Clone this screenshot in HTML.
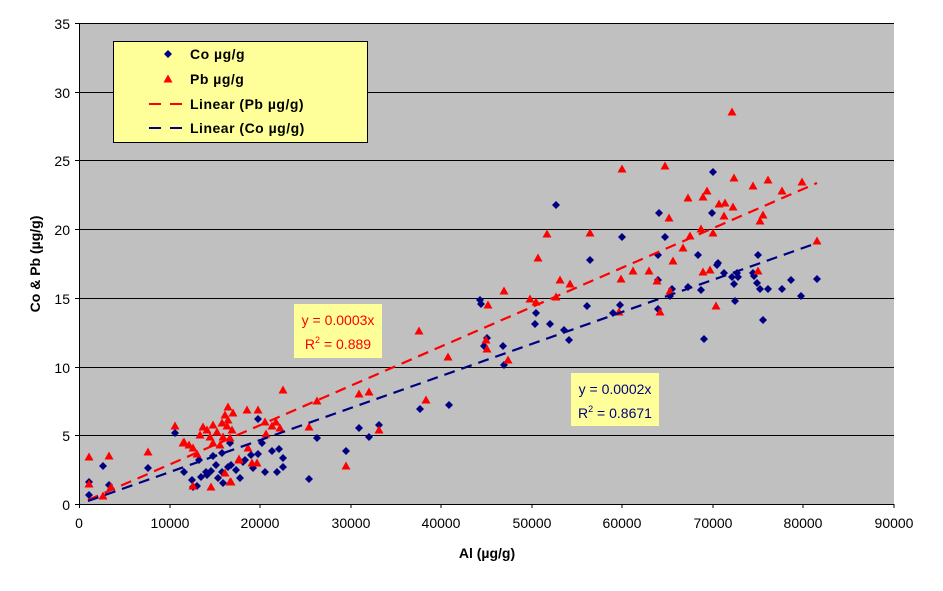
<!DOCTYPE html>
<html><head><meta charset="utf-8"><style>
body{margin:0;background:#fff;}
svg text{font-family:"Liberation Sans",Arial,sans-serif;}
</style></head><body>
<svg width="943" height="586" viewBox="0 0 943 586" xmlns="http://www.w3.org/2000/svg">
<defs>
<path id="d" d="M0,-4 L4,0 L0,4 L-4,0Z" fill="#000080"/>
<path id="t" d="M0,-4.5 L4.5,3.5 L-4.5,3.5Z" fill="#ff0000"/>
</defs>
<rect x="79" y="23" width="815" height="481" fill="#c0c0c0"/>
<g stroke="#000" stroke-width="1">
<line x1="79" y1="23.5" x2="894" y2="23.5"/>
<line x1="79" y1="92.5" x2="894" y2="92.5"/>
<line x1="79" y1="160.5" x2="894" y2="160.5"/>
<line x1="79" y1="229.5" x2="894" y2="229.5"/>
<line x1="79" y1="298.5" x2="894" y2="298.5"/>
<line x1="79" y1="367.5" x2="894" y2="367.5"/>
<line x1="79" y1="435.5" x2="894" y2="435.5"/>
<line x1="79" y1="504.5" x2="894" y2="504.5"/>
<line x1="79.5" y1="23" x2="79.5" y2="508"/>
<line x1="75" y1="23.5" x2="79" y2="23.5"/><line x1="75" y1="92.5" x2="79" y2="92.5"/><line x1="75" y1="160.5" x2="79" y2="160.5"/><line x1="75" y1="229.5" x2="79" y2="229.5"/><line x1="75" y1="298.5" x2="79" y2="298.5"/><line x1="75" y1="367.5" x2="79" y2="367.5"/><line x1="75" y1="435.5" x2="79" y2="435.5"/><line x1="75" y1="504.5" x2="79" y2="504.5"/>
<line x1="170" y1="504" x2="170" y2="508"/><line x1="260" y1="504" x2="260" y2="508"/><line x1="351" y1="504" x2="351" y2="508"/><line x1="441" y1="504" x2="441" y2="508"/><line x1="532" y1="504" x2="532" y2="508"/><line x1="622" y1="504" x2="622" y2="508"/><line x1="713" y1="504" x2="713" y2="508"/><line x1="803" y1="504" x2="803" y2="508"/><line x1="894" y1="504" x2="894" y2="508"/>
</g>
<g font-size="14" fill="#000" text-anchor="end">
<text x="70" y="29">35</text><text x="70" y="98">30</text><text x="70" y="166">25</text><text x="70" y="235">20</text><text x="70" y="304">15</text><text x="70" y="373">10</text><text x="70" y="441">5</text><text x="70" y="510">0</text>
</g>
<g font-size="14" fill="#000" text-anchor="middle">
<text x="79" y="528">0</text><text x="170" y="528">10000</text><text x="260" y="528">20000</text><text x="351" y="528">30000</text><text x="441" y="528">40000</text><text x="532" y="528">50000</text><text x="622" y="528">60000</text><text x="713" y="528">70000</text><text x="803" y="528">80000</text><text x="894" y="528">90000</text>
</g>
<text x="487" y="558" font-size="14" font-weight="bold" text-anchor="middle">Al (µg/g)</text>
<text transform="translate(40,264) rotate(-90)" font-size="14" font-weight="bold" text-anchor="middle">Co &amp; Pb (µg/g)</text>

<g>
<use href="#d" x="89" y="482"/><use href="#d" x="89" y="495"/><use href="#d" x="103" y="466"/><use href="#d" x="109" y="485"/><use href="#d" x="148" y="468"/><use href="#d" x="175" y="433"/><use href="#d" x="184" y="472"/><use href="#d" x="192" y="480"/><use href="#d" x="193" y="487"/><use href="#d" x="197" y="486"/><use href="#d" x="201" y="477"/><use href="#d" x="206" y="472"/><use href="#d" x="211" y="471"/><use href="#d" x="213" y="456"/><use href="#d" x="216" y="465"/><use href="#d" x="218" y="478"/><use href="#d" x="222" y="453"/><use href="#d" x="222" y="472"/><use href="#d" x="223" y="483"/><use href="#d" x="228" y="467"/><use href="#d" x="230" y="443"/><use href="#d" x="231" y="465"/><use href="#d" x="240" y="478"/><use href="#d" x="245" y="460"/><use href="#d" x="251" y="455"/><use href="#d" x="253" y="468"/><use href="#d" x="258" y="454"/><use href="#d" x="265" y="472"/><use href="#d" x="272" y="451"/><use href="#d" x="277" y="472"/><use href="#d" x="279" y="449"/><use href="#d" x="283" y="458"/><use href="#d" x="283" y="467"/><use href="#d" x="309" y="479"/><use href="#d" x="317" y="438"/><use href="#d" x="346" y="451"/><use href="#d" x="369" y="437"/><use href="#d" x="258" y="419"/><use href="#d" x="359" y="428"/><use href="#d" x="379" y="425"/><use href="#d" x="420" y="409"/><use href="#d" x="449" y="405"/><use href="#d" x="199" y="460"/><use href="#d" x="207" y="475"/><use href="#d" x="236" y="470"/><use href="#d" x="243" y="462"/><use href="#d" x="262" y="443"/>
<use href="#d" x="713" y="172"/><use href="#d" x="556" y="205"/><use href="#d" x="659" y="213"/><use href="#d" x="712" y="213"/><use href="#d" x="622" y="237"/><use href="#d" x="665" y="237"/><use href="#d" x="590" y="260"/><use href="#d" x="698" y="255"/><use href="#d" x="658" y="255"/><use href="#d" x="718" y="263"/><use href="#d" x="717" y="265"/><use href="#d" x="737" y="273"/><use href="#d" x="754" y="276"/><use href="#d" x="738" y="277"/><use href="#d" x="757" y="283"/><use href="#d" x="658" y="280"/><use href="#d" x="791" y="280"/><use href="#d" x="688" y="287"/><use href="#d" x="672" y="289"/><use href="#d" x="670" y="296"/><use href="#d" x="735" y="301"/><use href="#d" x="587" y="306"/><use href="#d" x="620" y="305"/><use href="#d" x="658" y="309"/><use href="#d" x="701" y="290"/><use href="#d" x="613" y="313"/><use href="#d" x="535" y="324"/><use href="#d" x="550" y="324"/><use href="#d" x="564" y="330"/><use href="#d" x="480" y="300"/><use href="#d" x="569" y="340"/><use href="#d" x="487" y="338"/><use href="#d" x="484" y="346"/><use href="#d" x="503" y="346"/><use href="#d" x="536" y="313"/><use href="#d" x="801" y="296"/><use href="#d" x="817" y="279"/><use href="#d" x="758" y="255"/><use href="#d" x="760" y="289"/><use href="#d" x="768" y="289"/><use href="#d" x="782" y="289"/><use href="#d" x="763" y="320"/><use href="#d" x="734" y="284"/><use href="#d" x="753" y="273"/><use href="#d" x="724" y="273"/><use href="#d" x="732" y="277"/><use href="#d" x="704" y="339"/><use href="#d" x="504" y="365"/><use href="#d" x="481" y="304"/>
</g>
<g>
<use href="#t" x="89" y="457"/><use href="#t" x="89" y="484"/><use href="#t" x="109" y="456"/><use href="#t" x="103" y="496"/><use href="#t" x="111" y="487"/><use href="#t" x="148" y="452"/><use href="#t" x="184" y="442"/><use href="#t" x="211" y="487"/><use href="#t" x="231" y="482"/><use href="#t" x="239" y="460"/><use href="#t" x="257" y="463"/><use href="#t" x="346" y="466"/><use href="#t" x="379" y="430"/>
<use href="#t" x="175" y="426"/><use href="#t" x="183" y="443"/><use href="#t" x="189" y="445"/><use href="#t" x="193" y="448"/><use href="#t" x="197" y="454"/><use href="#t" x="200" y="435"/><use href="#t" x="203" y="427"/><use href="#t" x="213" y="425"/><use href="#t" x="207" y="430"/><use href="#t" x="210" y="437"/><use href="#t" x="217" y="432"/><use href="#t" x="222" y="423"/><use href="#t" x="225" y="415"/><use href="#t" x="228" y="407"/><use href="#t" x="233" y="413"/><use href="#t" x="228" y="420"/><use href="#t" x="227" y="426"/><use href="#t" x="232" y="430"/><use href="#t" x="223" y="437"/><use href="#t" x="213" y="443"/><use href="#t" x="220" y="445"/><use href="#t" x="230" y="438"/><use href="#t" x="247" y="410"/><use href="#t" x="258" y="410"/><use href="#t" x="265" y="422"/><use href="#t" x="272" y="426"/><use href="#t" x="276" y="422"/><use href="#t" x="280" y="428"/><use href="#t" x="266" y="434"/><use href="#t" x="248" y="448"/><use href="#t" x="239" y="459"/><use href="#t" x="252" y="463"/><use href="#t" x="225" y="473"/><use href="#t" x="230" y="482"/><use href="#t" x="193" y="486"/><use href="#t" x="317" y="401"/><use href="#t" x="309" y="427"/><use href="#t" x="359" y="394"/><use href="#t" x="369" y="392"/><use href="#t" x="419" y="331"/><use href="#t" x="426" y="400"/><use href="#t" x="283" y="390"/><use href="#t" x="448" y="357"/>
<use href="#t" x="732" y="112"/><use href="#t" x="622" y="169"/><use href="#t" x="665" y="166"/><use href="#t" x="734" y="178"/><use href="#t" x="753" y="186"/><use href="#t" x="782" y="191"/><use href="#t" x="768" y="180"/><use href="#t" x="707" y="191"/><use href="#t" x="802" y="182"/><use href="#t" x="688" y="198"/><use href="#t" x="703" y="197"/><use href="#t" x="719" y="204"/><use href="#t" x="725" y="203"/><use href="#t" x="733" y="207"/><use href="#t" x="724" y="216"/><use href="#t" x="763" y="215"/><use href="#t" x="760" y="221"/><use href="#t" x="669" y="218"/><use href="#t" x="547" y="234"/><use href="#t" x="590" y="233"/><use href="#t" x="701" y="229"/><use href="#t" x="713" y="233"/><use href="#t" x="690" y="236"/><use href="#t" x="683" y="248"/><use href="#t" x="673" y="261"/><use href="#t" x="649" y="271"/><use href="#t" x="710" y="270"/><use href="#t" x="703" y="272"/><use href="#t" x="657" y="281"/><use href="#t" x="758" y="271"/><use href="#t" x="570" y="284"/><use href="#t" x="504" y="291"/><use href="#t" x="488" y="305"/><use href="#t" x="560" y="280"/><use href="#t" x="670" y="291"/><use href="#t" x="530" y="299"/><use href="#t" x="556" y="297"/><use href="#t" x="619" y="312"/><use href="#t" x="660" y="312"/><use href="#t" x="716" y="306"/><use href="#t" x="621" y="279"/><use href="#t" x="633" y="271"/><use href="#t" x="486" y="340"/><use href="#t" x="487" y="349"/><use href="#t" x="508" y="360"/><use href="#t" x="817" y="241"/><use href="#t" x="538" y="258"/><use href="#t" x="536" y="302"/>
</g>
<line x1="88" y1="500" x2="817" y2="183" stroke="#ff0000" stroke-width="2.2" stroke-dasharray="11,7"/>
<line x1="88" y1="501" x2="817" y2="243" stroke="#000080" stroke-width="2.2" stroke-dasharray="11,7"/>

<rect x="113.5" y="41.5" width="254" height="101" fill="#ffff99" stroke="#000" stroke-width="1"/>
<use href="#d" x="168" y="54"/>
<use href="#t" x="168" y="79"/>
<line x1="149" y1="104" x2="184" y2="104" stroke="#ff0000" stroke-width="2" stroke-dasharray="12,9"/>
<line x1="149" y1="128" x2="184" y2="128" stroke="#000080" stroke-width="2" stroke-dasharray="12,9"/>
<g font-size="14" font-weight="bold" fill="#000">
<text x="190" y="59" letter-spacing="0.5">Co µg/g</text>
<text x="190" y="84" letter-spacing="0.5">Pb µg/g</text>
<text x="190" y="109" letter-spacing="0.5">Linear (Pb µg/g)</text>
<text x="190" y="133" letter-spacing="0.5">Linear (Co µg/g)</text>
</g>
<rect x="294" y="304" width="88" height="54" fill="#ffff99"/>
<text x="338" y="325" font-size="14" fill="#ff0000" text-anchor="middle">y = 0.0003x</text>
<text x="338" y="349" font-size="14" fill="#ff0000" text-anchor="middle">R<tspan font-size="9" dy="-6">2</tspan><tspan dy="6"> = 0.889</tspan></text>
<rect x="571" y="373" width="88" height="53" fill="#ffff99"/>
<text x="615" y="394" font-size="14" fill="#000080" text-anchor="middle">y = 0.0002x</text>
<text x="615" y="418" font-size="14" fill="#000080" text-anchor="middle">R<tspan font-size="9" dy="-6">2</tspan><tspan dy="6"> = 0.8671</tspan></text>
</svg>
</body></html>
